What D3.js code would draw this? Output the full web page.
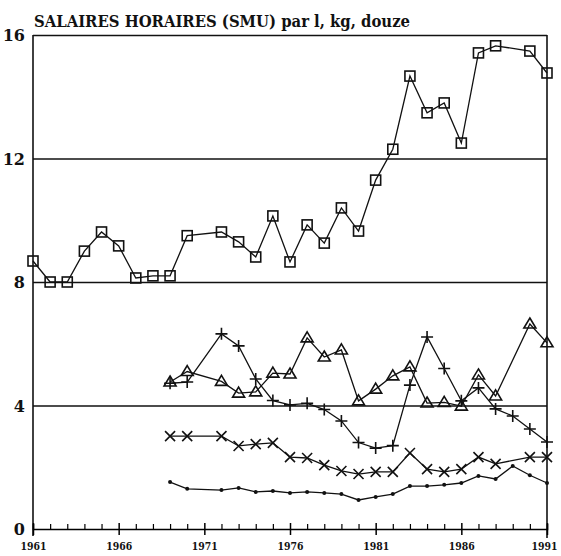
<!DOCTYPE html>
<html lang="fr">
<head>
<meta charset="UTF-8">
<title>Salaires horaires</title>
<script src="https://d3js.org/d3.v7.min.js"></script>
<style>
  body { margin: 0; background: #fff; }
  svg text { font-family: "DejaVu Serif", "Liberation Serif", serif; font-weight: bold; fill: #111; }
  .line { fill: none; stroke: #111; stroke-width: 1.3; }
  .mk { fill: none; stroke: #111; stroke-width: 1.6; }
</style>
</head>
<body>
<svg width="561" height="556"></svg>
<script>
// annees par serie (certaines annees manquent)
var yearsSq = [1961,1962,1963,1964,1965,1966,1967,1968,1969,1970,
  1972,1973,1974,1975,1976,1977,1978,1979,1980,1981,1982,1983,1984,1985,1986,1987,1988,1990,1991];
var valSq = [8.68,8.0,8.0,9.0,9.62,9.17,8.13,8.2,8.2,9.5,
  9.62,9.3,8.81,10.14,8.65,9.85,9.26,10.4,9.65,11.3,12.3,14.67,13.48,13.8,12.5,15.42,15.65,15.48,14.77];

var yearsTri = [1969,1970,1972,1973,1974,1975,1976,1977,1978,1979,1980,1981,1982,1983,1984,1985,1986,1987,1988,1990,1991];
var valTri = [4.76,5.1,4.78,4.4,4.44,5.05,5.02,6.19,5.57,5.8,4.15,4.53,4.96,5.25,4.08,4.1,3.98,4.99,4.31,6.64,6.03];

var yearsPlus = [1969,1970,1972,1973,1974,1975,1976,1977,1978,1979,1980,1981,1982,1983,1984,1985,1986,1987,1988,1989,1990,1991];
var valPlus = [4.72,4.76,6.32,5.93,4.86,4.16,4.02,4.07,3.87,3.5,2.8,2.62,2.7,4.66,6.22,5.2,4.15,4.57,3.89,3.66,3.24,2.82];

var yearsX = [1969,1970,1972,1973,1974,1975,1976,1977,1978,1979,1980,1981,1982,1983,1984,1985,1986,1987,1988,1990,1991];
var valX = [3.01,3.01,3.01,2.69,2.75,2.79,2.33,2.3,2.07,1.88,1.78,1.85,1.85,2.46,1.94,1.85,1.94,2.33,2.11,2.33,2.33];

var yearsDot = [1969,1970,1972,1973,1974,1975,1976,1977,1978,1979,1980,1981,1982,1983,1984,1985,1986,1987,1988,1989,1990,1991];
var valDot = [1.52,1.3,1.26,1.33,1.2,1.23,1.17,1.2,1.17,1.13,0.94,1.04,1.13,1.39,1.39,1.43,1.49,1.72,1.62,2.04,1.74,1.49];

var yTicks = [0,4,8,12,16];
var yearLabels = [1961,1966,1971,1976,1981,1986,1991];
var title = "SALAIRES HORAIRES (SMU) par l, kg, douze";

var x = d3.scaleLinear().domain([1961, 1991]).range([33, 547]);
var y = d3.scaleLinear().domain([0, 16]).range([529, 35]);

var svg = d3.select("svg");

// titre
svg.append("text")
  .attr("x", 34).attr("y", 27)
  .attr("textLength", 376).attr("lengthAdjust", "spacingAndGlyphs")
  .style("font-size", "16px")
  .text(title);

// grille horizontale
svg.append("g")
  .attr("transform", "translate(33,0)")
  .call(d3.axisLeft(y).tickValues([4, 8, 12, 16]).tickSize(-(547 - 33)).tickFormat(""))
  .call(function(g) { g.select(".domain").remove(); })
  .selectAll("line").attr("stroke", "#111").attr("stroke-width", 1.5);

// axe y : etiquettes
var yAx = svg.append("g")
  .attr("transform", "translate(33,0)")
  .call(d3.axisLeft(y).tickValues(yTicks).tickSize(0).tickPadding(8));
yAx.select(".domain").remove();
yAx.selectAll("text").style("font-size", "16px").attr("dy", "0.36em");

// cadre gauche et droit
svg.append("line").attr("x1", x(1961)).attr("x2", x(1961)).attr("y1", y(16)).attr("y2", y(0) + 7)
  .attr("stroke", "#111").attr("stroke-width", 1.6);
svg.append("line").attr("x1", x(1991)).attr("x2", x(1991)).attr("y1", y(16)).attr("y2", y(0) + 9)
  .attr("stroke", "#111").attr("stroke-width", 1.6);

// axe x : ligne de base + graduations annuelles
var minor = d3.range(1962, 1991).filter(function(d) { return (d - 1961) % 5 !== 0; });
var xg = svg.append("g").attr("transform", "translate(0," + y(0) + ")");
xg.append("g")
  .call(d3.axisBottom(x).tickValues(minor).tickSize(-5).tickFormat(""))
  .call(function(g) { g.select(".domain").attr("stroke-width", 1.5); })
  .selectAll("line").attr("stroke-width", 1.2);
var major = xg.append("g")
  .call(d3.axisBottom(x).tickValues(yearLabels).tickSize(6).tickPadding(7).tickFormat(d3.format("d")));
major.select(".domain").remove();
major.selectAll("line").attr("y1", -6).attr("stroke-width", 1.5);
major.selectAll("text")
  .style("font-size", "11px")
  .attr("textLength", 26).attr("lengthAdjust", "spacingAndGlyphs")
  .attr("x", function(d) { return d === 1991 ? -3 : 0; });

// series
var series = [
  { years: yearsSq, vals: valSq, mark: "square" },
  { years: yearsTri, vals: valTri, mark: "triangle" },
  { years: yearsPlus, vals: valPlus, mark: "plus" },
  { years: yearsX, vals: valX, mark: "cross" },
  { years: yearsDot, vals: valDot, mark: "dot" }
];

var line = d3.line().x(function(d) { return x(d[0]); }).y(function(d) { return y(d[1]); });

series.forEach(function(s) {
  var pts = s.years.map(function(yr, i) { return [yr, s.vals[i]]; });
  svg.append("path").datum(pts).attr("class", "line").attr("d", line);

  var g = svg.append("g");
  pts.forEach(function(p) {
    var cx = x(p[0]), cy = y(p[1]);
    if (s.mark === "square") {
      g.append("rect").attr("class", "mk")
        .attr("x", cx - 5).attr("y", cy - 5).attr("width", 10).attr("height", 10);
    } else if (s.mark === "triangle") {
      g.append("path").attr("class", "mk")
        .attr("d", "M" + cx + "," + (cy - 6) + "L" + (cx + 6) + "," + (cy + 4) + "L" + (cx - 6) + "," + (cy + 4) + "Z");
    } else if (s.mark === "plus") {
      g.append("path").attr("class", "mk")
        .attr("d", "M" + (cx - 6) + "," + cy + "H" + (cx + 6) + "M" + cx + "," + (cy - 6) + "V" + (cy + 6));
    } else if (s.mark === "cross") {
      g.append("path").attr("class", "mk")
        .attr("d", "M" + (cx - 5) + "," + (cy - 5) + "L" + (cx + 5) + "," + (cy + 5) +
                   "M" + (cx - 5) + "," + (cy + 5) + "L" + (cx + 5) + "," + (cy - 5));
    } else {
      g.append("circle").attr("cx", cx).attr("cy", cy).attr("r", 2).attr("fill", "#111");
    }
  });
});
</script>
</body>
</html>
